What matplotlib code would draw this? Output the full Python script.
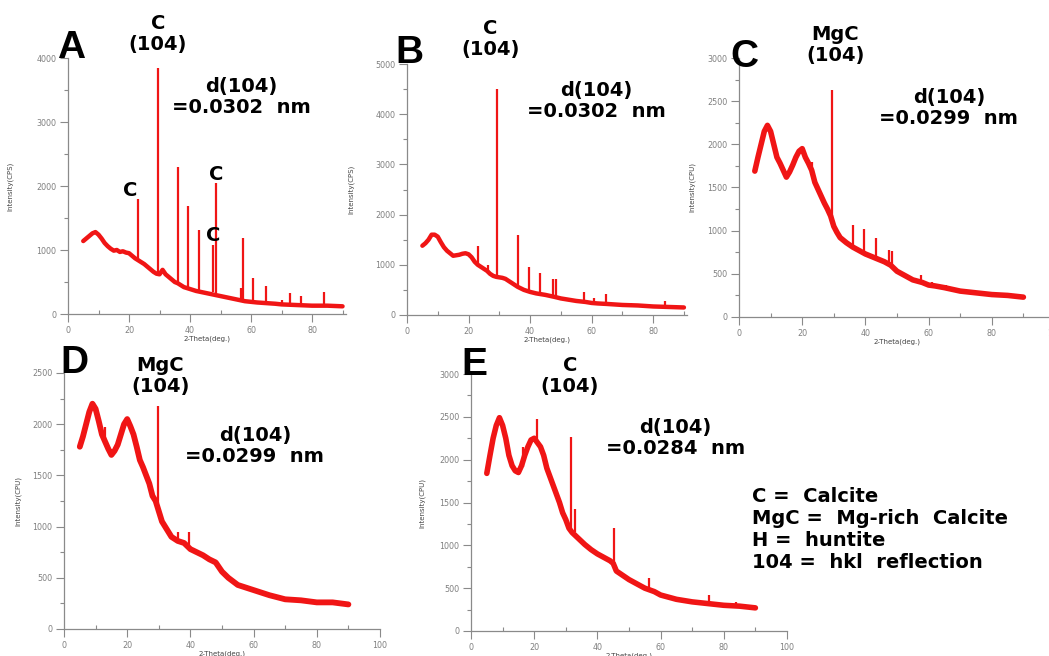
import numpy as np
import matplotlib.pyplot as plt
from matplotlib.ticker import MultipleLocator

# ---- data ----
# panel A (CPS)
a_bg_x = [5, 6, 7, 8, 9, 10, 11, 12, 13, 14, 15, 16, 17, 18, 19, 20, 21, 22, 23, 24, 25, 26, 27, 28, 29,
          30, 31, 32, 33, 34, 35, 36, 38, 40, 42, 45, 48, 50, 52, 55, 58, 60, 62, 65, 68, 70, 75, 80, 85, 90]
a_bg_y = [1140, 1180, 1220, 1260, 1280, 1240, 1180, 1110, 1060, 1020, 990, 1000, 970, 980, 960, 950, 910, 870, 840, 810,
          780, 740, 700, 660, 630, 620, 690, 620, 580, 540, 500, 480, 420, 390, 360, 330, 300, 280, 260, 230, 200, 190,
          180, 170, 160, 150, 140, 130, 130, 120]
a_pk_x = [23.1, 29.4, 36.0, 39.5, 43.1, 47.4, 48.5, 56.6, 57.4, 60.7, 64.8, 70.3, 72.9, 76.4, 83.9]
a_pk_base = [860, 630, 480, 420, 370, 340, 330, 235, 230, 195, 175, 155, 150, 145, 130]
a_pk_top = [1790, 3850, 2290, 1680, 1310, 1080, 2040, 410, 1180, 570, 430, 220, 330, 280, 340]

# panel B (CPS)
b_bg_x = [5, 6, 7, 8, 9, 10, 11, 12, 13, 14, 15, 16, 17, 18, 19, 20, 21, 22, 23, 24, 25, 26, 27, 28, 29,
          30, 31, 32, 33, 34, 35, 36, 38, 40, 42, 45, 48, 50, 52, 55, 58, 60, 62, 65, 70, 75, 80, 85, 90]
b_bg_y = [1380, 1430, 1500, 1600, 1600, 1560, 1450, 1350, 1280, 1230, 1180, 1190, 1200, 1220, 1230, 1210, 1150, 1060,
          1000, 960, 920, 880, 820, 780, 760, 750, 740, 720, 680, 640, 600, 560, 500, 460, 430, 400, 360, 330, 310, 280,
          260, 240, 230, 220, 200, 190, 170, 160, 150]
b_pk_x = [23.0, 26.2, 29.4, 36.0, 39.5, 43.2, 47.4, 48.5, 57.4, 60.7, 64.7, 72.9, 76.3, 83.9]
b_pk_base = [1000, 880, 760, 560, 480, 430, 370, 360, 265, 240, 225, 195, 190, 170]
b_pk_top = [1380, 1000, 4500, 1600, 950, 830, 720, 720, 460, 340, 420, 240, 225, 270]

# panel C (CPU)
c_bg_x = [5, 6, 7, 8, 9, 10, 11, 12, 13, 14, 15, 16, 17, 18, 19, 20, 21, 22, 23, 24, 25, 26, 27, 28, 29,
          30, 31, 32, 34, 36, 38, 40, 42, 44, 46, 48, 50, 52, 55, 58, 60, 62, 65, 70, 75, 80, 85, 90]
c_bg_y = [1690, 1850, 2000, 2150, 2220, 2150, 2000, 1850, 1780, 1700, 1620, 1680, 1760, 1850, 1920, 1950, 1850, 1780,
          1700, 1560, 1480, 1400, 1320, 1250, 1170, 1050, 980, 920, 860, 810, 770, 730, 700, 670, 640, 600, 530, 490,
          430, 400, 370, 360, 340, 300, 280, 260, 250, 230]
c_pk_x = [23.0, 29.4, 36.0, 39.5, 43.2, 47.5, 48.5, 57.5, 61.0, 65.5]
c_pk_base = [1650, 1150, 810, 750, 690, 610, 600, 390, 360, 340]
c_pk_top = [1800, 2630, 1060, 1020, 920, 780, 760, 490, 410, 370]

# panel D (CPU)
d_bg_x = [5, 6, 7, 8, 9, 10, 11, 12, 13, 14, 15, 16, 17, 18, 19, 20, 21, 22, 23, 24, 25, 26, 27, 28, 29,
          30, 31, 32, 34, 36, 38, 40, 42, 44, 46, 48, 50, 52, 55, 58, 60, 62, 65, 70, 75, 80, 85, 90]
d_bg_y = [1780, 1880, 2000, 2120, 2200, 2150, 2030, 1900, 1830, 1760, 1700, 1740, 1800, 1900, 2000, 2050, 1980, 1900,
          1780, 1650, 1580, 1500, 1420, 1300, 1250, 1150, 1050, 1000, 900, 860, 840, 780, 750, 720, 680, 650, 560, 500,
          430, 400, 380, 360, 330, 290, 280, 260, 260, 240]
d_pk_x = [13.0, 29.6, 36.0, 39.5]
d_pk_base = [1830, 1230, 860, 820]
d_pk_top = [1970, 2180, 950, 950]

# panel E (CPU)
e_bg_x = [5, 6, 7, 8, 9, 10, 11, 12, 13, 14, 15, 16, 17, 18, 19, 20, 21, 22, 23, 24, 25, 26, 27, 28, 29,
          30, 31, 32, 34, 36, 38, 40, 42, 44, 45, 46, 48, 50, 52, 55, 58, 60, 62, 65, 70, 75, 80, 85, 90]
e_bg_y = [1840, 2050, 2250, 2400, 2490, 2400, 2250, 2050, 1930, 1870, 1850, 1930, 2050, 2150, 2230, 2250, 2200, 2150,
          2050, 1900, 1800, 1700, 1600, 1500, 1380, 1300, 1200, 1150, 1080, 1010, 950, 900, 860, 820, 790, 700, 650, 600,
          560, 500, 460, 420, 400, 370, 340, 320, 300, 290, 270]
e_pk_x = [16.3, 20.8, 31.5, 33.0, 45.3, 56.3, 75.2, 84.0]
e_pk_base = [1920, 2230, 1200, 1150, 790, 490, 320, 295]
e_pk_top = [2150, 2480, 2270, 1420, 1200, 620, 420, 340]

W, H = 1049, 656
RED = '#f01515'
AX_GRAY = '#8a8a8a'

fig = plt.figure(figsize=(W / 100, H / 100), dpi=100)


def px_axes(left, right, bottom, top):
    return fig.add_axes([left / W, 1 - bottom / H, (right - left) / W, (bottom - top) / H])


def draw_panel(ax, bx, by, px, pbase, ptop, xmax, ymax, ymaj, ymin, ylab, ylab_off, lw):
    ax.plot(bx, by, color=RED, lw=lw, solid_joinstyle='round', solid_capstyle='round')
    ax.vlines(px, pbase, ptop, color=RED, lw=1.6)
    ax.set_xlim(0, xmax)
    ax.set_ylim(0, ymax)
    for s in ['top', 'right']:
        ax.spines[s].set_visible(False)
    for s in ['left', 'bottom']:
        ax.spines[s].set_color(AX_GRAY)
        ax.spines[s].set_linewidth(0.9)
    ax.xaxis.set_major_locator(MultipleLocator(20))
    ax.xaxis.set_minor_locator(MultipleLocator(10))
    ax.yaxis.set_major_locator(MultipleLocator(ymaj))
    ax.yaxis.set_minor_locator(MultipleLocator(ymin))
    ax.tick_params(which='major', direction='out', length=5.8, width=0.8, color=AX_GRAY,
                   labelsize=5.8, labelcolor='#808080', pad=2.5)
    ax.tick_params(axis='y', which='minor', direction='out', length=3.2, width=0.8, color=AX_GRAY)
    ax.tick_params(axis='x', which='minor', direction='in', length=3.2, width=0.8, color=AX_GRAY)
    ax.set_xlabel('2-Theta(deg.)', fontsize=5, color='#444444', labelpad=1)
    ax.set_ylabel(ylab, fontsize=5, color='#444444')
    bb = ax.get_position()
    ax.yaxis.set_label_coords(-ylab_off / (bb.width * W), 0.5)
    ax.patch.set_alpha(0)


TXT = dict(fontsize=14, fontweight='bold', ha='center', va='center', linespacing=1.13,
           multialignment='center', color='black')

# A
axA = px_axes(68, 345.6, 314, 58)
draw_panel(axA, a_bg_x, a_bg_y, a_pk_x, a_pk_base, a_pk_top, 91, 4000, 1000, 500, 'Intensity(CPS)', 55, 3.2)
axA.text(29.5, 4375, 'C\n(104)', **TXT)
axA.text(56.7, 3390, 'd(104)\n=0.0302  nm', **TXT)
axA.text(20.3, 1937, 'C', **TXT)
axA.text(48.5, 2172, 'C', **TXT)
axA.text(47.5, 1234, 'C', **TXT)

# B
axB = px_axes(407, 687, 315, 64)
draw_panel(axB, b_bg_x, b_bg_y, b_pk_x, b_pk_base, b_pk_top, 91, 5000, 1000, 500, 'Intensity(CPS)', 53, 3.2)
axB.text(27.0, 5498, 'C\n(104)', **TXT)
axB.text(61.5, 4263, 'd(104)\n=0.0302  nm', **TXT)

# C
axC = px_axes(739, 1055, 317, 58)
draw_panel(axC, c_bg_x, c_bg_y, c_pk_x, c_pk_base, c_pk_top, 100, 3000, 500, 250, 'Intensity(CPU)', 44, 4)
axC.text(30.4, 3150, 'MgC\n(104)', **TXT)
axC.text(66.4, 2420, 'd(104)\n=0.0299  nm', **TXT)

# D
axD = px_axes(64, 380, 629, 373)
draw_panel(axD, d_bg_x, d_bg_y, d_pk_x, d_pk_base, d_pk_top, 100, 2500, 500, 250, 'Intensity(CPU)', 43, 4.2)
axD.text(30.4, 2471, 'MgC\n(104)', **TXT)
axD.text(60.4, 1787, 'd(104)\n=0.0299  nm', **TXT)

# E
axE = px_axes(471, 787, 631, 374)
draw_panel(axE, e_bg_x, e_bg_y, e_pk_x, e_pk_base, e_pk_top, 100, 3000, 500, 250, 'Intensity(CPU)', 46, 4)
axE.text(31.3, 2976, 'C\n(104)', **TXT)
axE.text(64.6, 2252, 'd(104)\n=0.0284  nm', **TXT)

# panel letters
for lab, x, y in [('A', 71, 48), ('B', 409, 53), ('C', 744, 57), ('D', 74, 363), ('E', 474, 365)]:
    fig.text(x / W, 1 - y / H, lab, fontsize=28, fontweight='bold', family='Liberation Sans',
             ha='center', va='center', color='black')

fig.text(752 / W, 1 - 529.5 / H,
         'C =  Calcite\nMgC =  Mg-rich  Calcite\nH =  huntite\n104 =  hkl  reflection',
         fontsize=14, fontweight='bold', ha='left', va='center', linespacing=1.18, color='black')

fig.savefig('out.png', dpi=100)
